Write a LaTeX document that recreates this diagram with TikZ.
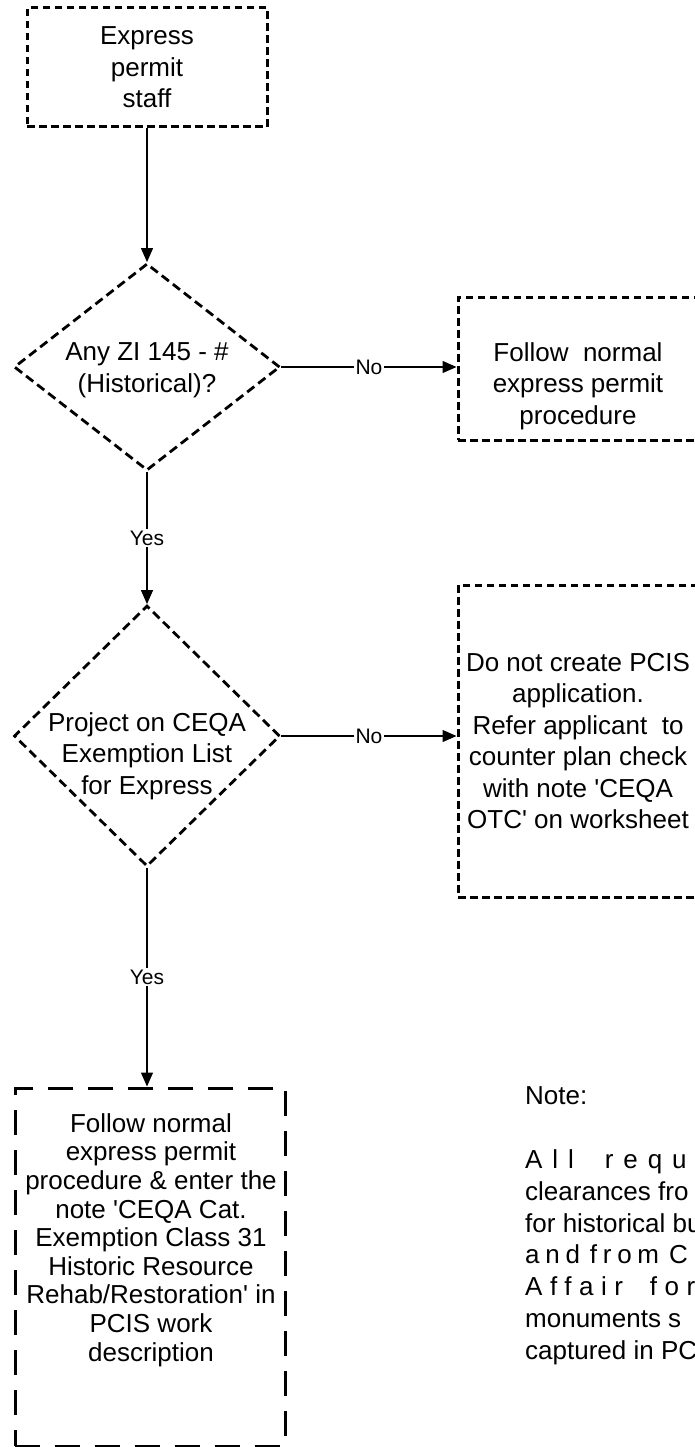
\documentclass[tikz,border=0pt]{standalone}
\usepackage{fontspec}
\setmainfont{Liberation Sans}
\usetikzlibrary{positioning,shapes.geometric,arrows.meta}

\newcommand{\squote}{\textquotesingle}

\tikzset{
    dashbox/.style={draw, line width=3pt, dash pattern=on 7.5pt off 4.5pt, inner sep=0pt},
    longdashbox/.style={draw, line width=3pt, dash pattern=on 25pt off 15pt, inner sep=0pt},
    decision/.style={diamond, draw, line width=2.8pt, dash pattern=on 9pt off 5pt, inner sep=0pt},
    boxtext/.style={align=center, inner sep=0pt, font=\fontsize{26}{31.5}\selectfont},
    flow/.style={line width=1.2pt, -{Triangle[length=14pt,width=12pt]}},
    answer/.style={fill=white, inner sep=1.5pt, font=\fontsize{21}{24}\selectfont},
    notetext/.style={align=left, inner sep=0pt, font=\fontsize{26}{31.7}\selectfont}
}

\begin{document}
\begin{tikzpicture}[x=1pt, y=-1pt]
    \useasboundingbox (0,0) rectangle (694,1447);

    \node[dashbox, boxtext, minimum width=240pt, minimum height=119pt] (staff) at (147,67.5) {Express\\permit\\staff};

    \node[decision, minimum width=266pt, minimum height=207pt] (zi) at (147,367) {};
    \node[boxtext] (zitext) at (147,370) {Any ZI 145 - \#\\(Historical)?};

    \node[dashbox, minimum width=242pt, minimum height=143pt] (normal) at (579,368.5) {};
    \node[boxtext] (normaltext) at (578,386) {Follow\ \ normal\\express permit\\procedure};

    \node[decision, minimum width=266pt, minimum height=261pt] (ceqa) at (147,736) {};
    \node[boxtext] (ceqatext) at (147,756) {Project on CEQA\\Exemption List\\for Express};

    \node[dashbox, boxtext, minimum width=240pt, minimum height=312pt] (refer) at (578,741)
        {Do not create PCIS\\application.\\Refer applicant\ \ to\\counter plan check\\with note \squote CEQA\\OTC\squote\ on worksheet};

    \node[longdashbox, minimum width=270pt, minimum height=358pt] (rehab) at (150,1267) {};
    \node[boxtext, font=\fontsize{26}{28.6}\selectfont] (rehabtext) at (151,1240)
        {Follow normal\\express permit\\procedure \& enter the\\note \squote CEQA Cat.\\Exemption Class 31\\Historic Resource\\Rehab/Restoration\squote\ in\\PCIS work\\description};

    \node[notetext, anchor=north west] (note) at (525,1086)
        {Note:\\[33pt]{\addfontfeature{LetterSpace=38}All\hspace{14pt} requ}\\clearances fro\\for historical bu\\{\addfontfeature{LetterSpace=22}and\hspace{-3pt} from\hspace{-3pt} Cu}\\{\addfontfeature{LetterSpace=29}Affair\hspace{12pt} for}\\monuments s\\captured in PC};

    \draw[flow] (staff.south) -- (zi.north);
    \draw[flow] (zi.east) -- node[answer] (no1) {No} (zi.east -| normal.west);
    \draw[flow] (zi.south) -- node[answer] (yes1) {Yes} (ceqa.north);
    \draw[flow] (ceqa.east) -- node[answer] (no2) {No} (ceqa.east -| refer.west);
    \draw[flow] (ceqa.south) -- node[answer] (yes2) {Yes} (ceqa.south |- rehab.north);
\end{tikzpicture}
\end{document}
